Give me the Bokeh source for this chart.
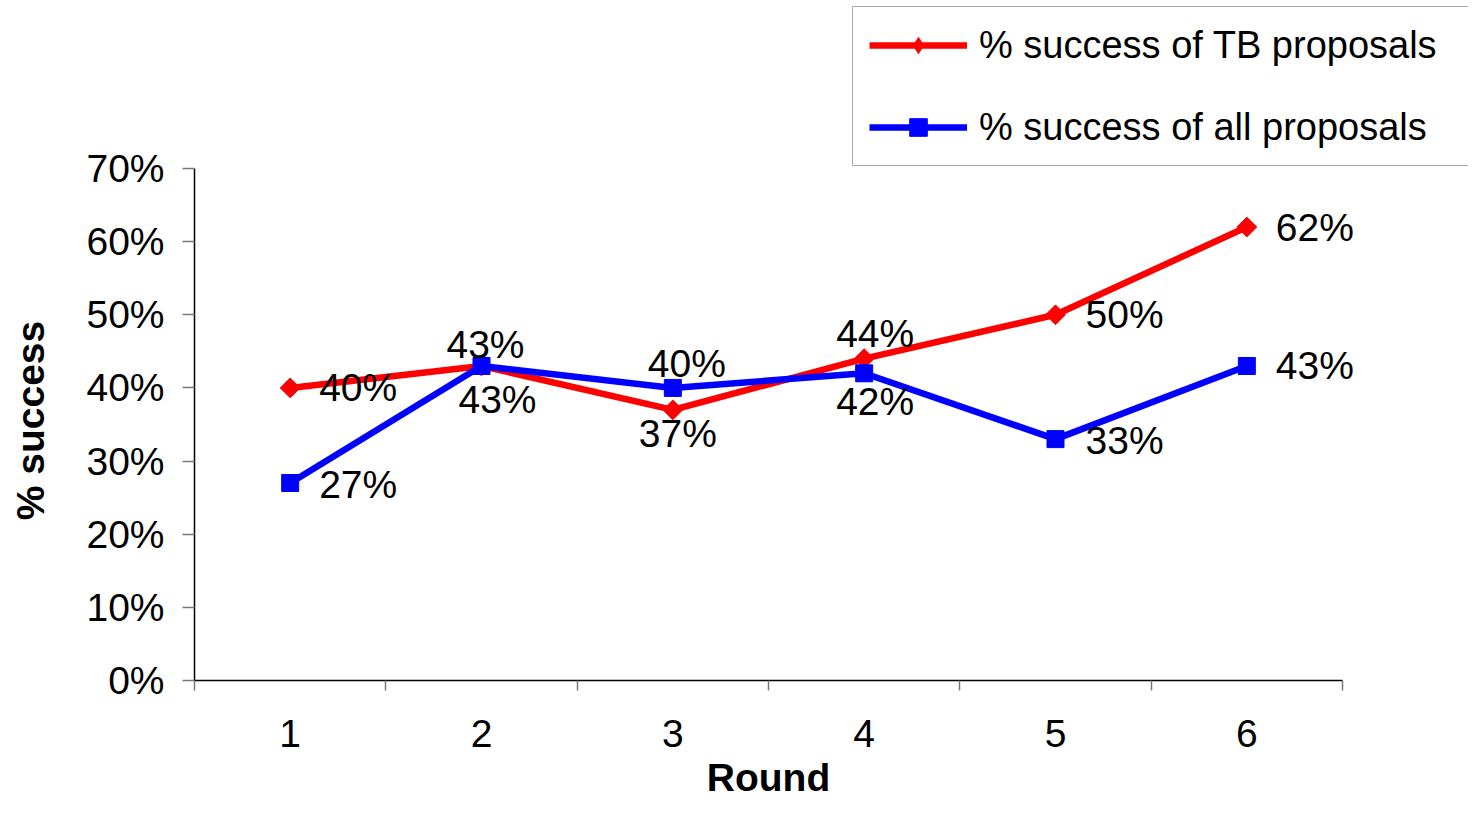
import math
from bokeh.plotting import figure
from bokeh.models import (ColumnDataSource, FixedTicker, NumeralTickFormatter, Range1d,
                          Legend, LegendItem, LabelSet, Label)
from bokeh.core.properties import value
from bokeh.embed import file_html
from bokeh.resources import INLINE

# ---- data ----
rounds = [1, 2, 3, 4, 5, 6]
round_labels = ["1", "2", "3", "4", "5", "6"]
tb_success = [0.40, 0.43, 0.37, 0.44, 0.50, 0.62]
all_success = [0.27, 0.43, 0.40, 0.42, 0.33, 0.43]
y_ticks = [0.0, 0.1, 0.2, 0.3, 0.4, 0.5, 0.6, 0.7]
tb_name = "% success of TB proposals"
all_name = "% success of all proposals"
x_title = "Round"
y_title = "% success"

# ---- label placement (screen px, style only) ----
tb_dx = [29, 4, 5, 11, 30, 29]
tb_dy = [0, -21, 24, -25, 0, 0]
tb_align = ["left", "center", "center", "center", "left", "left"]
all_dx = [29, 16, 14, 11, 30, 29]
all_dy = [1, 34, -24, 28, 1, 0]
all_align = ["left", "center", "center", "center", "left", "left"]

FONT = "Liberation Sans"
FS = "39px"
W, H = 1468, 802
# pixel geometry of the plotting area inside the canvas
AX_L, AX_R, AX_T, AX_B = 194, 1342, 168, 680

x_lo, x_hi = rounds[0] - 0.5, rounds[-1] + 0.5
y_lo, y_hi = y_ticks[0], y_ticks[-1]
xs = (AX_R - AX_L) / (x_hi - x_lo)
ys = (AX_B - AX_T) / (y_hi - y_lo)
x_range = Range1d(x_lo - AX_L / xs, x_hi + (W - AX_R) / xs)
y_range = Range1d(y_lo - (H - AX_B) / ys, y_hi + AX_T / ys)

p = figure(width=W, height=H, output_backend="svg", toolbar_location=None,
           x_range=x_range, y_range=y_range,
           min_border_left=0, min_border_right=0, min_border_top=0, min_border_bottom=0)
p.outline_line_color = None
p.xgrid.visible = False
p.ygrid.visible = False
p.background_fill_color = "white"
p.border_fill_color = "white"

# x axis: labels at category centres, ticks at boundaries
xa = p.xaxis[0]
xa.fixed_location = y_lo
xa.bounds = (x_lo, x_hi)
xa.ticker = FixedTicker(ticks=rounds, minor_ticks=[r - 0.5 for r in rounds] + [rounds[-1] + 0.5])
xa.major_label_overrides = {r: l for r, l in zip(rounds, round_labels)}
xa.major_tick_out = 0
xa.major_tick_in = 0
xa.minor_tick_out = 10
xa.minor_tick_in = 0
xa.minor_tick_line_color = "#777777"
xa.minor_tick_line_width = 1.5
xa.major_label_standoff = 29
xa.major_label_text_font = FONT
xa.major_label_text_font_size = FS
xa.major_label_text_color = "black"
xa.axis_line_color = "black"
xa.axis_line_width = 1.5

# y axis
ya = p.yaxis[0]
ya.fixed_location = x_lo
ya.bounds = (y_lo, y_hi)
ya.ticker = FixedTicker(ticks=y_ticks, minor_ticks=[])
ya.formatter = NumeralTickFormatter(format="0%")
ya.major_tick_out = 12
ya.major_tick_in = 0
ya.minor_tick_out = 0
ya.minor_tick_in = 0
ya.major_tick_line_color = "#777777"
ya.major_tick_line_width = 1.5
ya.major_label_standoff = 18
ya.major_label_text_font = FONT
ya.major_label_text_font_size = FS
ya.major_label_text_color = "black"
ya.axis_line_color = "black"
ya.axis_line_width = 1.5

# axis titles
p.add_layout(Label(x=(x_lo + x_hi) / 2, y=H - 777, y_units="screen", text=x_title,
                   text_align="center", text_baseline="middle", text_font=FONT,
                   text_font_size=FS, text_font_style="bold", text_color="black"))
p.add_layout(Label(x=30, y=H - 420, x_units="screen", y_units="screen", text=y_title,
                   angle=math.pi / 2, text_align="center", text_baseline="middle",
                   text_font=FONT, text_font_size=FS, text_font_style="bold",
                   text_color="black"))

# series
r1 = p.line(rounds, tb_success, line_color="red", line_width=6.5)
m1 = p.scatter(rounds, tb_success, marker="square", angle=math.pi / 4, size=14,
               fill_color="red", line_color="red")
# legend key marker for the red series (diamond, zero size on the plot itself)
k1 = p.scatter(rounds, tb_success, marker="diamond", size=0,
               fill_color="red", line_color=None)
r2 = p.line(rounds, all_success, line_color="blue", line_width=6.5)
m2 = p.scatter(rounds, all_success, marker="square", size=17,
               fill_color="blue", line_color="blue")


def add_labels(values, dx, dy, align):
    for a in ("left", "center"):
        idx = [i for i in range(len(rounds)) if align[i] == a]
        src = ColumnDataSource(dict(
            x=[rounds[i] for i in idx],
            y=[values[i] for i in idx],
            t=[f"{round(values[i] * 100)}%" for i in idx],
            dx=[dx[i] for i in idx],
            dy=[-dy[i] for i in idx]))
        p.add_layout(LabelSet(x="x", y="y", text="t", source=src, x_offset="dx", y_offset="dy",
                              text_align=a, text_baseline="middle", text_font=value(FONT),
                              text_font_size=value(FS), text_color="black"))


add_labels(tb_success, tb_dx, tb_dy, tb_align)
add_labels(all_success, all_dx, all_dy, all_align)

legend = Legend(items=[LegendItem(label=tb_name, renderers=[r1, k1]),
                       LegendItem(label=all_name, renderers=[r2, m2])],
                location=(852, H - 166))
legend.label_text_font = FONT
legend.label_text_font_size = "38px"
legend.label_text_color = "black"
legend.glyph_width = 98
legend.glyph_height = 44
legend.label_height = 44
legend.label_width = 520
legend.label_standoff = 12
legend.spacing = 38
legend.padding = 16
legend.margin = 0
legend.border_line_color = "#555555"
legend.border_line_width = 1.5
legend.background_fill_color = "white"
legend.background_fill_alpha = 1.0
p.add_layout(legend)

open("out.html", "w").write(file_html(p, INLINE))
